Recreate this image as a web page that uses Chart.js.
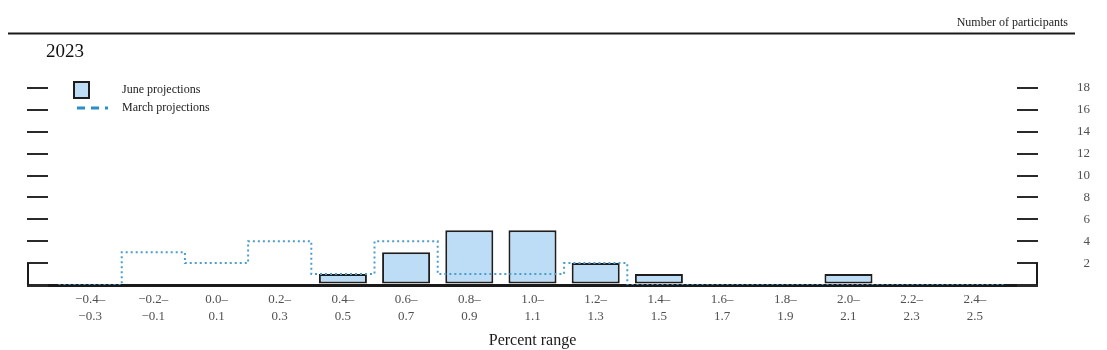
<!DOCTYPE html>
<html>
<head>
<meta charset="utf-8">
<script src="https://cdn.jsdelivr.net/npm/chart.js@4"></script>
<style>
  html, body { margin: 0; padding: 0; background: #fff; }
  #wrap { width: 1107px; height: 350px; }
</style>
</head>
<body>
<div id="wrap"><canvas id="chart"></canvas></div>
<script>
// Bin lower bounds (percent range), participant counts
const bins = [-0.4, -0.2, 0, 0.2, 0.4, 0.6, 0.8, 1.0, 1.2, 1.4, 1.6, 1.8, 2.0, 2.2, 2.4];
const binLabels = [
    ['\u22120.4\u2013', '\u22120.3'], ['\u22120.2\u2013', '\u22120.1'], ['0.0\u2013', '0.1'],
    ['0.2\u2013', '0.3'], ['0.4\u2013', '0.5'], ['0.6\u2013', '0.7'], ['0.8\u2013', '0.9'],
    ['1.0\u2013', '1.1'], ['1.2\u2013', '1.3'], ['1.4\u2013', '1.5'], ['1.6\u2013', '1.7'],
    ['1.8\u2013', '1.9'], ['2.0\u2013', '2.1'], ['2.2\u2013', '2.3'], ['2.4\u2013', '2.5']
];
const juneCounts = [0, 0, 0, 0, 1, 3, 5, 5, 2, 1, 0, 0, 1, 0, 0];
const marchCounts = [0, 3, 2, 4, 1, 4, 1, 1, 2, 0, 0, 0, 0, 0, 0];
const yTicks = [0, 2, 4, 6, 8, 10, 12, 14, 16, 18];

const serif = '"Liberation Serif", "DejaVu Serif", serif';
const barFill = '#bddcf5';
const barEdge = '#1e1e1e';
const marchColor = '#4c9dcc';

// legend icons drawn on small canvases
function makeIcon(kind) {
    const c = document.createElement('canvas');
    c.width = 62; c.height = 18;
    const g = c.getContext('2d');
    if (kind === 'box') {
        g.fillStyle = barFill;
        g.fillRect(20, 1, 15, 16);
        g.strokeStyle = barEdge;
        g.lineWidth = 2;
        g.strokeRect(20, 1, 15, 16);
    } else {
        g.strokeStyle = '#2a8fc8';
        g.lineWidth = 3;
        g.setLineDash([8, 6]);
        g.beginPath();
        g.moveTo(23, 9);
        g.lineTo(54, 9);
        g.stroke();
    }
    return c;
}
const juneIcon = makeIcon('box');
const marchIcon = makeIcon('line');

// step points for March: left edge of each bin, plus closing right edge
const marchSteps = bins.map((b, i) => ({ x: b - 0.1, y: marchCounts[i] }));
marchSteps.push({ x: bins[bins.length - 1] + 0.1, y: 0 });

// header rule, heading texts and the end brackets of the frame
const framePlugin = {
    id: 'frame',
    afterLayout(chart) {
        // legend sits inside the plot, top left
        const lg = chart.legend;
        const h = lg.bottom - lg.top;
        lg.top = chart.chartArea.top - 10;
        lg.bottom = lg.top + h;
    },
    afterDraw(chart) {
        const ctx = chart.ctx;
        const y = chart.scales.y;
        const left = chart.scales.y.left;
        const right = chart.scales.y2.left + 21;
        ctx.save();
        ctx.strokeStyle = '#1a1a1a';
        ctx.lineWidth = 2;
        ctx.beginPath();
        ctx.moveTo(left + 1, y.getPixelForValue(2));
        ctx.lineTo(left + 1, y.getPixelForValue(0));
        ctx.moveTo(right - 1, y.getPixelForValue(2));
        ctx.lineTo(right - 1, y.getPixelForValue(0));
        ctx.stroke();

        ctx.beginPath();
        ctx.moveTo(8, 33.5);
        ctx.lineTo(1075, 33.5);
        ctx.stroke();

        ctx.fillStyle = '#222';
        ctx.font = '12px ' + serif;
        ctx.textAlign = 'right';
        ctx.textBaseline = 'middle';
        ctx.fillText('Number of participants', 1068, 23);
        ctx.fillStyle = '#111';
        ctx.font = '19px ' + serif;
        ctx.textAlign = 'left';
        ctx.fillText('2023', 46, 52);
        ctx.restore();
    }
};

new Chart(document.getElementById('chart').getContext('2d'), {
    type: 'bar',
    data: {
        datasets: [{
            type: 'bar',
            label: 'June projections',
            data: bins.map((b, i) => ({ x: b, y: juneCounts[i] })),
            backgroundColor: barFill,
            borderColor: barEdge,
            borderWidth: 2,
            borderSkipped: false,
            categoryPercentage: 1,
            barPercentage: 0.76,
            yAxisID: 'y',
            order: 2
        }, {
            type: 'line',
            label: 'March projections',
            data: marchSteps,
            stepped: true,
            borderColor: marchColor,
            borderWidth: 2,
            borderDash: [2, 3],
            pointRadius: 0,
            fill: false,
            yAxisID: 'y',
            order: 1
        }]
    },
    options: {
        responsive: true,
        maintainAspectRatio: false,
        animation: false,
        layout: { padding: { left: 27, right: 17, top: 88, bottom: 0 } },
        scales: {
            x: {
                type: 'linear',
                offset: false,
                min: -0.4 - 0.1333,
                max: 2.4 + 0.1333,
                afterBuildTicks: s => { s.ticks = bins.map(v => ({ value: v })); },
                afterFit: s => { s.paddingLeft = 0; s.paddingRight = 0; },
                grid: { display: false, drawTicks: false, offset: false },
                border: { display: false },
                ticks: {
                    autoSkip: false,
                    maxRotation: 0,
                    padding: 6,
                    color: '#505050',
                    font: { family: serif, size: 13, lineHeight: 1.3 },
                    callback: (v, i) => binLabels[i]
                },
                title: {
                    display: true,
                    text: 'Percent range',
                    color: '#1a1a1a',
                    font: { family: serif, size: 16 },
                    padding: { top: 0, bottom: 0 }
                }
            },
            y: {
                position: 'left',
                min: 0,
                max: 18,
                z: 1,
                afterBuildTicks: s => { s.ticks = yTicks.map(v => ({ value: v })); },
                ticks: { display: false },
                border: { display: false },
                grid: {
                    drawTicks: true,
                    tickLength: 21,
                    color: c => c.tick && c.tick.value === 0 ? '#1a1a1a' : 'rgba(0,0,0,0)',
                    tickColor: '#2a2a2a',
                    lineWidth: c => c.tick && c.tick.value === 0 ? 3 : 2
                }
            },
            y2: {
                position: 'right',
                min: 0,
                max: 18,
                z: 1,
                afterBuildTicks: s => { s.ticks = yTicks.map(v => ({ value: v })); },
                afterFit: s => { s.width = 73; },
                border: { display: false },
                grid: {
                    drawOnChartArea: false,
                    drawTicks: true,
                    tickLength: 21,
                    tickColor: '#2a2a2a',
                    lineWidth: c => c.tick && c.tick.value === 0 ? 3 : 2
                },
                ticks: {
                    crossAlign: 'far',
                    color: '#505050',
                    font: { family: serif, size: 13 },
                    callback: v => v === 0 ? '' : v
                }
            }
        },
        plugins: {
            legend: {
                position: 'chartArea',
                align: 'start',
                labels: {
                    usePointStyle: true,
                    pointStyleWidth: 62,
                    boxHeight: 12,
                    padding: 6,
                    color: '#222',
                    font: { family: serif, size: 12 },
                    generateLabels: () => [
                        { text: 'June projections', pointStyle: juneIcon, fontColor: '#222', datasetIndex: 0, lineWidth: 0, strokeStyle: 'rgba(0,0,0,0)', fillStyle: 'rgba(0,0,0,0)' },
                        { text: 'March projections', pointStyle: marchIcon, fontColor: '#222', datasetIndex: 1, lineWidth: 0, strokeStyle: 'rgba(0,0,0,0)', fillStyle: 'rgba(0,0,0,0)' }
                    ]
                }
            },
            title: { display: false },
            tooltip: { enabled: false }
        }
    },
    plugins: [framePlugin]
});
</script>
</body>
</html>
